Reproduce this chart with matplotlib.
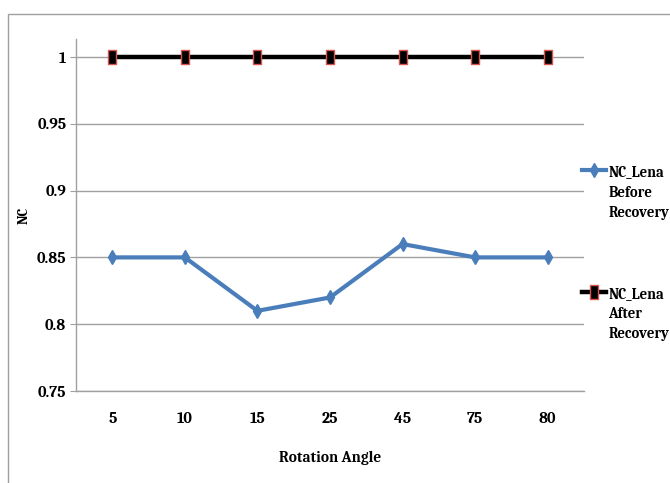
import matplotlib
matplotlib.use("Agg")
import matplotlib.pyplot as plt
from matplotlib.path import Path
from matplotlib.font_manager import fontManager

angles = ["5", "10", "15", "25", "45", "75", "80"]
nc_before = [0.85, 0.85, 0.81, 0.82, 0.86, 0.85, 0.85]
nc_after = [1.0, 1.0, 1.0, 1.0, 1.0, 1.0, 1.0]
yticks = [0.75, 0.8, 0.85, 0.9, 0.95, 1.0]
ytick_labels = ["0.75", "0.8", "0.85", "0.9", "0.95", "1"]

# bold serif face (Cambria-metric) for all chart text, with fallbacks
names = {f.name for f in fontManager.ttflist}
preferred = ["Caladea", "Liberation Serif", "DejaVu Serif"]
fam = [f for f in preferred if f in names] or ["DejaVu Serif"]
plt.rcParams["font.family"] = fam[:1] + ["DejaVu Sans"]
plt.rcParams["font.weight"] = "bold"

fig = plt.figure(figsize=(6.7, 4.83), dpi=100)
ax = fig.add_axes([0.1134, 0.1905, 0.7582, 0.7288])

# tall rectangle marker
rect = Path([(-0.55, -1), (0.55, -1), (0.55, 1), (-0.55, 1), (-0.55, -1)],
            [Path.MOVETO, Path.LINETO, Path.LINETO, Path.LINETO, Path.CLOSEPOLY])

x = list(range(len(angles)))
ax.plot(x, nc_before, color="#4A7EBB", lw=3, marker="d", ms=7.5,
        mfc="#4A7EBB", mec="#4A7EBB", label="NC_Lena\nBefore\nRecovery", zorder=3)
ax.plot(x, nc_after, color="black", lw=3.2, marker=rect, ms=10,
        mfc="black", mec="#D9534F", mew=1, label="NC_Lena\nAfter\nRecovery", zorder=3)

ax.set_xlim(-0.5, 6.5)
ax.set_ylim(0.75, 1.0135)
ax.set_xticks(x)
ax.set_xticklabels(angles)
ax.set_yticks(yticks)
ax.set_yticklabels(ytick_labels)
ax.tick_params(axis="x", length=0, pad=15, labelsize=11.5)
ax.tick_params(axis="y", length=4, color="#A0A0A0", pad=3, labelsize=11.5)
ax.grid(axis="y", color="#A0A0A0", lw=1)
ax.set_axisbelow(True)
for s in ["top", "right"]:
    ax.spines[s].set_visible(False)
for s in ["left", "bottom"]:
    ax.spines[s].set_color("#A0A0A0")
    ax.spines[s].set_linewidth(1)

ax.set_xlabel("Rotation Angle", fontsize=11, fontweight="bold", va="center")
ax.xaxis.set_label_coords(0.5, -0.19)
ax.set_ylabel("NC", fontsize=10, fontweight="bold", va="center")
ax.yaxis.set_label_coords(-0.103, 0.5)

leg = fig.legend(loc="upper left", bbox_to_anchor=(0.868, 0.658), frameon=False,
                 prop={"size": 10.5, "weight": "bold"}, handlelength=1.7,
                 handletextpad=0.15, labelspacing=4.55, borderaxespad=0,
                 borderpad=0)
for t in leg.get_texts():
    t.set_linespacing(1.55)
# put each legend key beside the first line of its label
for column in leg._legend_handle_box.get_children():
    for entry in column.get_children():
        entry.align = "top"

# outer chart border
fig.add_artist(plt.Rectangle((0.012, -0.1), 1.2, 1.071, transform=fig.transFigure,
                             fill=False, edgecolor="#A0A0A0", lw=1))

fig.savefig("out.png", dpi=100)
